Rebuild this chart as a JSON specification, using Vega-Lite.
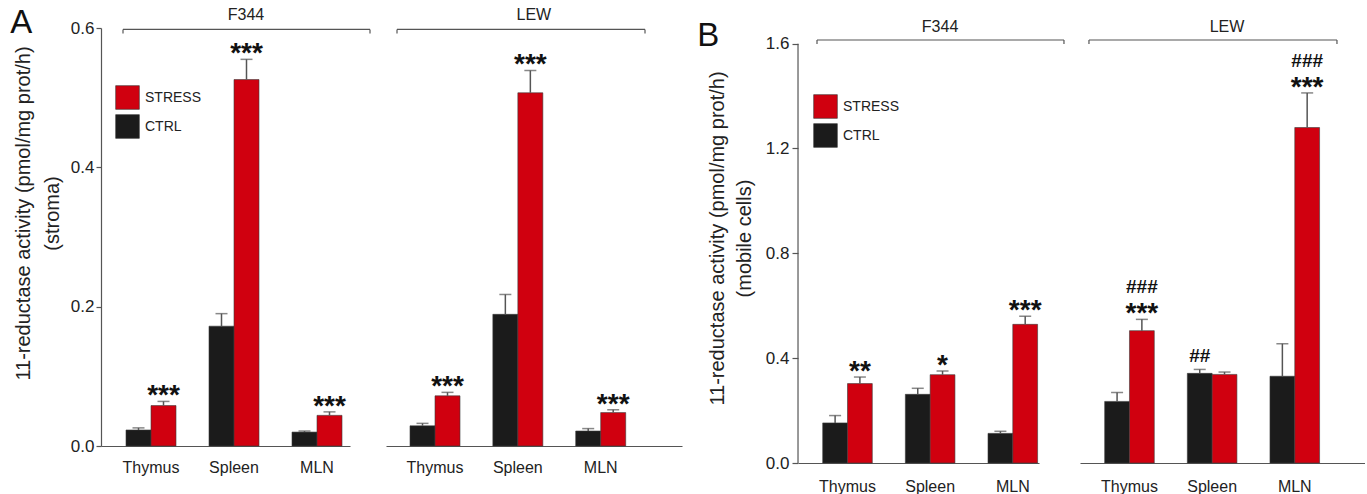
{
  "$schema": "https://vega.github.io/schema/vega-lite/v6.json",
  "background": "white",
  "padding": {"left": 10, "top": 6, "right": 0, "bottom": 0},
  "config": {
    "view": {"stroke": null},
    "font": "Liberation Sans",
    "axis": {"grid": false, "labelFont": "Liberation Sans", "titleFont": "Liberation Sans", "titleFontWeight": "normal", "labelColor": "#222", "titleColor": "#222", "domainColor": "#555", "tickColor": "#555", "domainWidth": 1.2, "tickWidth": 1.2}
  },
  "datasets": {
    "bars": [
      {"panel": "A", "strain": "F344", "organ": "Thymus", "group": "CTRL", "mean": 0.023, "err": 0.026, "star": "", "hash": ""},
      {"panel": "A", "strain": "F344", "organ": "Thymus", "group": "STRESS", "mean": 0.058, "err": 0.064, "star": "***", "hash": ""},
      {"panel": "A", "strain": "F344", "organ": "Spleen", "group": "CTRL", "mean": 0.172, "err": 0.19, "star": "", "hash": ""},
      {"panel": "A", "strain": "F344", "organ": "Spleen", "group": "STRESS", "mean": 0.526, "err": 0.555, "star": "***", "hash": ""},
      {"panel": "A", "strain": "F344", "organ": "MLN", "group": "CTRL", "mean": 0.02, "err": 0.0215, "star": "", "hash": ""},
      {"panel": "A", "strain": "F344", "organ": "MLN", "group": "STRESS", "mean": 0.044, "err": 0.049, "star": "***", "hash": ""},
      {"panel": "A", "strain": "LEW", "organ": "Thymus", "group": "CTRL", "mean": 0.029, "err": 0.0325, "star": "", "hash": ""},
      {"panel": "A", "strain": "LEW", "organ": "Thymus", "group": "STRESS", "mean": 0.072, "err": 0.077, "star": "***", "hash": ""},
      {"panel": "A", "strain": "LEW", "organ": "Spleen", "group": "CTRL", "mean": 0.189, "err": 0.2175, "star": "", "hash": ""},
      {"panel": "A", "strain": "LEW", "organ": "Spleen", "group": "STRESS", "mean": 0.507, "err": 0.539, "star": "***", "hash": ""},
      {"panel": "A", "strain": "LEW", "organ": "MLN", "group": "CTRL", "mean": 0.0215, "err": 0.025, "star": "", "hash": ""},
      {"panel": "A", "strain": "LEW", "organ": "MLN", "group": "STRESS", "mean": 0.048, "err": 0.052, "star": "***", "hash": ""},
      {"panel": "B", "strain": "F344", "organ": "Thymus", "group": "CTRL", "mean": 0.153, "err": 0.181, "star": "", "hash": ""},
      {"panel": "B", "strain": "F344", "organ": "Thymus", "group": "STRESS", "mean": 0.303, "err": 0.328, "star": "**", "hash": ""},
      {"panel": "B", "strain": "F344", "organ": "Spleen", "group": "CTRL", "mean": 0.262, "err": 0.285, "star": "", "hash": ""},
      {"panel": "B", "strain": "F344", "organ": "Spleen", "group": "STRESS", "mean": 0.337, "err": 0.351, "star": "*", "hash": ""},
      {"panel": "B", "strain": "F344", "organ": "MLN", "group": "CTRL", "mean": 0.113, "err": 0.121, "star": "", "hash": ""},
      {"panel": "B", "strain": "F344", "organ": "MLN", "group": "STRESS", "mean": 0.529, "err": 0.56, "star": "***", "hash": ""},
      {"panel": "B", "strain": "LEW", "organ": "Thymus", "group": "CTRL", "mean": 0.235, "err": 0.269, "star": "", "hash": ""},
      {"panel": "B", "strain": "LEW", "organ": "Thymus", "group": "STRESS", "mean": 0.505, "err": 0.548, "star": "***", "hash": "###"},
      {"panel": "B", "strain": "LEW", "organ": "Spleen", "group": "CTRL", "mean": 0.342, "err": 0.357, "star": "", "hash": "##"},
      {"panel": "B", "strain": "LEW", "organ": "Spleen", "group": "STRESS", "mean": 0.338, "err": 0.347, "star": "", "hash": ""},
      {"panel": "B", "strain": "LEW", "organ": "MLN", "group": "CTRL", "mean": 0.331, "err": 0.455, "star": "", "hash": ""},
      {"panel": "B", "strain": "LEW", "organ": "MLN", "group": "STRESS", "mean": 1.28, "err": 1.412, "star": "***", "hash": "###"}
    ]
  },
  "bounds": "full",
  "align": "each",
  "spacing": 15,
  "resolve": {"scale": {"x": "independent", "y": "independent", "xOffset": "independent", "color": "independent"}, "legend": {"color": "independent"}},
  "hconcat": [
    {
      "width": 249, "height": 418,
      "title": {"text": "A", "anchor": "start", "frame": "bounds", "fontSize": 33, "fontWeight": "normal", "font": "Liberation Sans", "color": "#111", "offset": 0, "baseline": "alphabetic", "dy": 59, "dx": -3},
      "data": {"name": "bars"},
      "transform": [{"filter": "datum.panel == 'A' && datum.strain == 'F344'"}],
      "layer": [
        {
          "mark": {"type": "bar", "stroke": "#3a3a3a", "strokeWidth": 0.6},
          "encoding": {
            "x": {"field": "organ", "type": "nominal", "scale": {"domain": ["Thymus", "Spleen", "MLN"], "paddingInner": 0.3976, "paddingOuter": 0.1988, "align": 0.7576}, "axis": {"title": null, "ticks": false, "tickSize": 0, "labelPadding": 13, "labelFontSize": 16, "labelAngle": 0}},
            "xOffset": {"field": "group", "type": "nominal", "scale": {"domain": ["CTRL", "STRESS"], "paddingInner": 0, "paddingOuter": 0}},
            "y": {"field": "mean", "type": "quantitative", "scale": {"domain": [0, 0.6], "nice": false}, "axis": {"values": [0, 0.2, 0.4, 0.6], "format": ".1f", "title": ["11-reductase activity (pmol/mg prot/h)", "(stroma)"], "titleFontSize": 20, "titleLineHeight": 29, "titlePadding": 8, "titleY": 185, "labelFontSize": 17, "tickSize": 5, "labelPadding": 2}},
            "color": {"field": "group", "type": "nominal", "scale": {"domain": ["STRESS", "CTRL"], "range": ["#d0000f", "#1b1b1b"]}, "legend": {"orient": "none", "legendX": 14, "legendY": 57, "title": null, "symbolType": "square", "symbolSize": 560, "symbolStrokeColor": "#333", "symbolStrokeWidth": 0.6, "labelFontSize": 14, "labelFont": "Liberation Sans", "labelColor": "#222", "labelOffset": 5, "rowPadding": 2, "padding": 0}}
          }
        },
        {
          "mark": {"type": "rule", "color": "#555", "strokeWidth": 1.5},
          "encoding": {"x": {"field": "organ", "type": "nominal"}, "xOffset": {"field": "group", "type": "nominal"}, "y": {"field": "mean", "type": "quantitative"}, "y2": {"field": "err"}}
        },
        {
          "mark": {"type": "tick", "color": "#555", "thickness": 1.5, "size": 12, "orient": "horizontal"},
          "encoding": {"x": {"field": "organ", "type": "nominal"}, "xOffset": {"field": "group", "type": "nominal"}, "y": {"field": "err", "type": "quantitative"}}
        },
        {
          "transform": [{"filter": "datum.star"}],
          "mark": {"type": "text", "font": "Liberation Sans", "fontWeight": "bold", "fontSize": 28, "baseline": "alphabetic", "dy": 3, "color": "#111"},
          "encoding": {"x": {"field": "organ", "type": "nominal"}, "xOffset": {"field": "group", "type": "nominal"}, "y": {"field": "err", "type": "quantitative"}, "text": {"field": "star"}}
        },
        {
          "data": {"values": [{"label": "F344"}]},
          "mark": {"type": "rule", "color": "#555", "strokeWidth": 1.2},
          "encoding": {"x": {"datum": "Thymus", "bandPosition": -0.06}, "x2": {"datum": "MLN", "bandPosition": 1.56}, "y": {"datum": 0.598}}
        },
        {
          "data": {"values": [{"label": "F344"}]},
          "mark": {"type": "rule", "color": "#555", "strokeWidth": 1.2},
          "encoding": {"x": {"datum": "Thymus", "bandPosition": -0.06}, "y": {"datum": 0.598}, "y2": {"datum": 0.592}}
        },
        {
          "data": {"values": [{"label": "F344"}]},
          "mark": {"type": "rule", "color": "#555", "strokeWidth": 1.2},
          "encoding": {"x": {"datum": "MLN", "bandPosition": 1.56}, "y": {"datum": 0.598}, "y2": {"datum": 0.592}}
        },
        {
          "data": {"values": [{"label": "F344"}]},
          "mark": {"type": "text", "fontSize": 16, "font": "Liberation Sans", "color": "#222", "baseline": "middle"},
          "encoding": {"x": {"datum": "Spleen", "bandPosition": 0.74}, "y": {"datum": 0.6187}, "text": {"field": "label"}}
        }
      ]
    },
    {
      "width": 296, "height": 418,
      "data": {"name": "bars"},
      "transform": [{"filter": "datum.panel == 'A' && datum.strain == 'LEW'"}],
      "layer": [
        {
          "mark": {"type": "bar", "stroke": "#3a3a3a", "strokeWidth": 0.6},
          "encoding": {
            "x": {"field": "organ", "type": "nominal", "scale": {"domain": ["Thymus", "Spleen", "MLN"], "paddingInner": 0.3965, "paddingOuter": 0.4846, "align": 0.2989}, "axis": {"title": null, "ticks": false, "tickSize": 0, "labelPadding": 13, "labelFontSize": 16, "labelAngle": 0}},
            "xOffset": {"field": "group", "type": "nominal", "scale": {"domain": ["CTRL", "STRESS"], "paddingInner": 0, "paddingOuter": 0}},
            "y": {"field": "mean", "type": "quantitative", "scale": {"domain": [0, 0.6], "nice": false}, "axis": null},
            "color": {"field": "group", "type": "nominal", "scale": {"domain": ["STRESS", "CTRL"], "range": ["#d0000f", "#1b1b1b"]}, "legend": null}
          }
        },
        {
          "mark": {"type": "rule", "color": "#555", "strokeWidth": 1.5},
          "encoding": {"x": {"field": "organ", "type": "nominal"}, "xOffset": {"field": "group", "type": "nominal"}, "y": {"field": "mean", "type": "quantitative", "axis": null}, "y2": {"field": "err"}}
        },
        {
          "mark": {"type": "tick", "color": "#555", "thickness": 1.5, "size": 12, "orient": "horizontal"},
          "encoding": {"x": {"field": "organ", "type": "nominal"}, "xOffset": {"field": "group", "type": "nominal"}, "y": {"field": "err", "type": "quantitative", "axis": null}}
        },
        {
          "transform": [{"filter": "datum.star"}],
          "mark": {"type": "text", "font": "Liberation Sans", "fontWeight": "bold", "fontSize": 28, "baseline": "alphabetic", "dy": 3, "color": "#111"},
          "encoding": {"x": {"field": "organ", "type": "nominal"}, "xOffset": {"field": "group", "type": "nominal"}, "y": {"field": "err", "type": "quantitative", "axis": null}, "text": {"field": "star"}}
        },
        {
          "data": {"values": [{"label": "LEW"}]},
          "mark": {"type": "rule", "color": "#555", "strokeWidth": 1.2},
          "encoding": {"x": {"datum": "Thymus", "bandPosition": -0.26}, "x2": {"datum": "MLN", "bandPosition": 1.386}, "y": {"datum": 0.598, "axis": null}}
        },
        {
          "data": {"values": [{"label": "LEW"}]},
          "mark": {"type": "rule", "color": "#555", "strokeWidth": 1.2},
          "encoding": {"x": {"datum": "Thymus", "bandPosition": -0.26}, "y": {"datum": 0.598, "axis": null}, "y2": {"datum": 0.592}}
        },
        {
          "data": {"values": [{"label": "LEW"}]},
          "mark": {"type": "rule", "color": "#555", "strokeWidth": 1.2},
          "encoding": {"x": {"datum": "MLN", "bandPosition": 1.386}, "y": {"datum": 0.598, "axis": null}, "y2": {"datum": 0.592}}
        },
        {
          "data": {"values": [{"label": "LEW"}]},
          "mark": {"type": "text", "fontSize": 16, "font": "Liberation Sans", "color": "#222", "baseline": "middle"},
          "encoding": {"x": {"datum": "Spleen", "bandPosition": 0.82}, "y": {"datum": 0.6187, "axis": null}, "text": {"field": "label"}}
        }
      ]
    },
    {
      "width": 241, "height": 435,
      "title": {"text": "B", "anchor": "start", "frame": "bounds", "fontSize": 33, "fontWeight": "normal", "font": "Liberation Sans", "color": "#111", "offset": 0, "baseline": "alphabetic", "dy": 60, "dx": -10},
      "data": {"name": "bars"},
      "transform": [{"filter": "datum.panel == 'B' && datum.strain == 'F344'"}],
      "layer": [
        {
          "mark": {"type": "bar", "stroke": "#3a3a3a", "strokeWidth": 0.6},
          "encoding": {
            "x": {"field": "organ", "type": "nominal", "scale": {"domain": ["Thymus", "Spleen", "MLN"], "paddingInner": 0.4, "paddingOuter": 0.158, "align": 0.946}, "axis": {"title": null, "ticks": false, "tickSize": 0, "labelPadding": 15, "labelFontSize": 16, "labelAngle": 0}},
            "xOffset": {"field": "group", "type": "nominal", "scale": {"domain": ["CTRL", "STRESS"], "paddingInner": 0, "paddingOuter": 0}},
            "y": {"field": "mean", "type": "quantitative", "scale": {"domain": [0, 1.6597], "nice": false}, "axis": {"values": [0, 0.4, 0.8, 1.2, 1.6], "format": ".1f", "domain": false, "title": ["11-reductase activity (pmol/mg prot/h)", "(mobile cells)"], "titleFontSize": 20, "titleLineHeight": 27, "titlePadding": 11, "titleY": 210, "labelFontSize": 17, "tickSize": 6, "labelPadding": 3}},
            "color": {"field": "group", "type": "nominal", "scale": {"domain": ["STRESS", "CTRL"], "range": ["#d0000f", "#1b1b1b"]}, "legend": {"orient": "none", "legendX": 15, "legendY": 66, "title": null, "symbolType": "square", "symbolSize": 560, "symbolStrokeColor": "#333", "symbolStrokeWidth": 0.6, "labelFontSize": 14, "labelFont": "Liberation Sans", "labelColor": "#222", "labelOffset": 5, "rowPadding": 2, "padding": 0}}
          }
        },
        {
          "mark": {"type": "rule", "color": "#555", "strokeWidth": 1.5},
          "encoding": {"x": {"field": "organ", "type": "nominal"}, "xOffset": {"field": "group", "type": "nominal"}, "y": {"field": "mean", "type": "quantitative"}, "y2": {"field": "err"}}
        },
        {
          "mark": {"type": "tick", "color": "#555", "thickness": 1.5, "size": 12, "orient": "horizontal"},
          "encoding": {"x": {"field": "organ", "type": "nominal"}, "xOffset": {"field": "group", "type": "nominal"}, "y": {"field": "err", "type": "quantitative"}}
        },
        {
          "transform": [{"filter": "datum.star"}],
          "mark": {"type": "text", "font": "Liberation Sans", "fontWeight": "bold", "fontSize": 28, "baseline": "alphabetic", "dy": 3, "color": "#111"},
          "encoding": {"x": {"field": "organ", "type": "nominal"}, "xOffset": {"field": "group", "type": "nominal"}, "y": {"field": "err", "type": "quantitative"}, "text": {"field": "star"}}
        },
        {
          "data": {"values": [{"label": "F344"}]},
          "mark": {"type": "rule", "color": "#555", "strokeWidth": 1.2},
          "encoding": {"x": {"datum": "Thymus", "bandPosition": -0.498}, "y": {"datum": 0}, "y2": {"datum": 1.6}}
        },
        {
          "data": {"values": [{"label": "F344"}]},
          "mark": {"type": "rule", "color": "#555", "strokeWidth": 1.2},
          "encoding": {"x": {"datum": "Thymus", "bandPosition": -0.115}, "x2": {"datum": "MLN", "bandPosition": 1.532}, "y": {"datum": 1.614}}
        },
        {
          "data": {"values": [{"label": "F344"}]},
          "mark": {"type": "rule", "color": "#555", "strokeWidth": 1.2},
          "encoding": {"x": {"datum": "Thymus", "bandPosition": -0.115}, "y": {"datum": 1.614}, "y2": {"datum": 1.599}}
        },
        {
          "data": {"values": [{"label": "F344"}]},
          "mark": {"type": "rule", "color": "#555", "strokeWidth": 1.2},
          "encoding": {"x": {"datum": "MLN", "bandPosition": 1.532}, "y": {"datum": 1.614}, "y2": {"datum": 1.599}}
        },
        {
          "data": {"values": [{"label": "F344"}]},
          "mark": {"type": "text", "fontSize": 16, "font": "Liberation Sans", "color": "#222", "baseline": "middle"},
          "encoding": {"x": {"datum": "Spleen", "bandPosition": 0.7}, "y": {"datum": 1.665}, "text": {"field": "label"}}
        }
      ]
    },
    {
      "width": 285, "height": 435,
      "data": {"name": "bars"},
      "transform": [{"filter": "datum.panel == 'B' && datum.strain == 'LEW'"}],
      "layer": [
        {
          "mark": {"type": "bar", "stroke": "#3a3a3a", "strokeWidth": 0.6},
          "encoding": {
            "x": {"field": "organ", "type": "nominal", "scale": {"domain": ["Thymus", "Spleen", "MLN"], "paddingInner": 0.4, "paddingOuter": 0.4242, "align": 0.352}, "axis": {"title": null, "ticks": false, "tickSize": 0, "labelPadding": 15, "labelFontSize": 16, "labelAngle": 0}},
            "xOffset": {"field": "group", "type": "nominal", "scale": {"domain": ["CTRL", "STRESS"], "paddingInner": 0, "paddingOuter": 0}},
            "y": {"field": "mean", "type": "quantitative", "scale": {"domain": [0, 1.6597], "nice": false}, "axis": null},
            "color": {"field": "group", "type": "nominal", "scale": {"domain": ["STRESS", "CTRL"], "range": ["#d0000f", "#1b1b1b"]}, "legend": null}
          }
        },
        {
          "mark": {"type": "rule", "color": "#555", "strokeWidth": 1.5},
          "encoding": {"x": {"field": "organ", "type": "nominal"}, "xOffset": {"field": "group", "type": "nominal"}, "y": {"field": "mean", "type": "quantitative", "axis": null}, "y2": {"field": "err"}}
        },
        {
          "mark": {"type": "tick", "color": "#555", "thickness": 1.5, "size": 12, "orient": "horizontal"},
          "encoding": {"x": {"field": "organ", "type": "nominal"}, "xOffset": {"field": "group", "type": "nominal"}, "y": {"field": "err", "type": "quantitative", "axis": null}}
        },
        {
          "transform": [{"filter": "datum.star"}],
          "mark": {"type": "text", "font": "Liberation Sans", "fontWeight": "bold", "fontSize": 28, "baseline": "alphabetic", "dy": 3, "color": "#111"},
          "encoding": {"x": {"field": "organ", "type": "nominal"}, "xOffset": {"field": "group", "type": "nominal"}, "y": {"field": "err", "type": "quantitative", "axis": null}, "text": {"field": "star"}}
        },
        {
          "transform": [{"filter": "datum.hash && datum.star"}],
          "mark": {"type": "text", "font": "Liberation Sans", "fontWeight": "bold", "fontSize": 19, "baseline": "alphabetic", "dy": -26, "color": "#111"},
          "encoding": {"x": {"field": "organ", "type": "nominal"}, "xOffset": {"field": "group", "type": "nominal"}, "y": {"field": "err", "type": "quantitative", "axis": null}, "text": {"field": "hash"}}
        },
        {
          "transform": [{"filter": "datum.hash && !datum.star"}],
          "mark": {"type": "text", "font": "Liberation Sans", "fontWeight": "bold", "fontSize": 19, "baseline": "alphabetic", "dy": -7, "color": "#111"},
          "encoding": {"x": {"field": "organ", "type": "nominal"}, "xOffset": {"field": "group", "type": "nominal"}, "y": {"field": "err", "type": "quantitative", "axis": null}, "text": {"field": "hash"}}
        },
        {
          "data": {"values": [{"label": "LEW"}]},
          "mark": {"type": "rule", "color": "#555", "strokeWidth": 1.2},
          "encoding": {"x": {"datum": "Thymus", "bandPosition": -0.317}, "x2": {"datum": "MLN", "bandPosition": 1.351}, "y": {"datum": 1.614, "axis": null}}
        },
        {
          "data": {"values": [{"label": "LEW"}]},
          "mark": {"type": "rule", "color": "#555", "strokeWidth": 1.2},
          "encoding": {"x": {"datum": "Thymus", "bandPosition": -0.317}, "y": {"datum": 1.614, "axis": null}, "y2": {"datum": 1.599}}
        },
        {
          "data": {"values": [{"label": "LEW"}]},
          "mark": {"type": "rule", "color": "#555", "strokeWidth": 1.2},
          "encoding": {"x": {"datum": "MLN", "bandPosition": 1.351}, "y": {"datum": 1.614, "axis": null}, "y2": {"datum": 1.599}}
        },
        {
          "data": {"values": [{"label": "LEW"}]},
          "mark": {"type": "text", "fontSize": 16, "font": "Liberation Sans", "color": "#222", "baseline": "middle"},
          "encoding": {"x": {"datum": "Spleen", "bandPosition": 0.8}, "y": {"datum": 1.665, "axis": null}, "text": {"field": "label"}}
        }
      ]
    }
  ]
}
